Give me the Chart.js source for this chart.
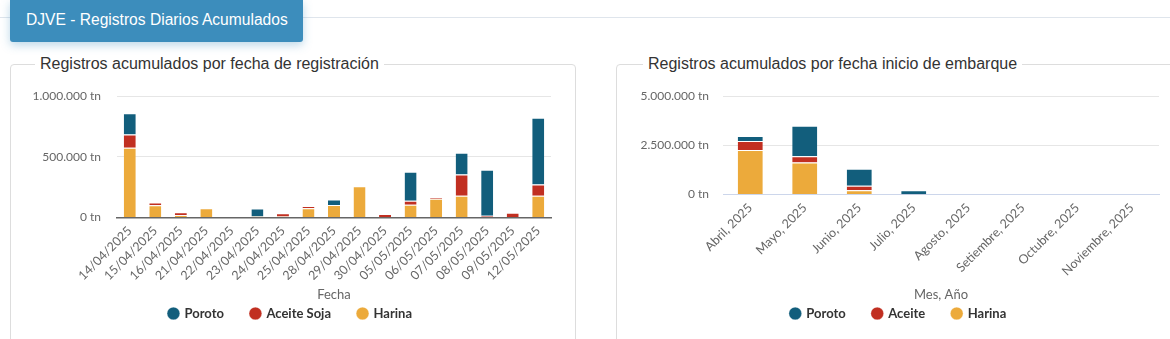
<!DOCTYPE html>
<html>
<head>
<meta charset="utf-8">
<script src="https://cdn.jsdelivr.net/npm/chart.js@4.4.1/dist/chart.umd.min.js"></script>
<style>
html,body{margin:0;padding:0;background:#fff;width:1170px;height:339px;overflow:hidden;position:relative;font-family:"Liberation Sans",Arial,sans-serif;}
.topline{position:absolute;left:0;top:17px;width:1170px;height:1px;background:#dfe5ec;}
.tab{position:absolute;left:10px;top:0;width:293px;height:42px;background:#3c8dbc;color:#fff;font-size:15.6px;line-height:39px;padding-left:16px;box-sizing:border-box;border-radius:0 0 3px 3px;box-shadow:0 3px 10px rgba(60,141,188,0.35);white-space:nowrap;}
.panel{position:absolute;top:64px;height:320px;border:1px solid #ddd;border-radius:4px;box-sizing:border-box;}
.ptitle{position:absolute;top:-10px;background:#fff;padding:0 5px;font-size:16px;color:#333;line-height:18px;white-space:nowrap;}
canvas{position:absolute;}
</style>
</head>
<body>
<div class="topline"></div>
<div class="tab">DJVE - Registros Diarios Acumulados</div>
<div class="panel" style="left:10px;width:566px;"><div class="ptitle" style="left:24px;">Registros acumulados por fecha de registración</div></div>
<div class="panel" style="left:616px;width:600px;"><div class="ptitle" style="left:26px;">Registros acumulados por fecha inicio de embarque</div></div>
<canvas id="c1" width="560" height="259" style="left:12px;top:80px;width:560px;height:259px;"></canvas>
<canvas id="c2" width="550" height="259" style="left:620px;top:80px;width:550px;height:259px;"></canvas>
<script>
// ---- Data: left chart (por fecha de registración) ----
const leftCategories = ['14/04/2025','15/04/2025','16/04/2025','21/04/2025','22/04/2025','23/04/2025','24/04/2025','25/04/2025','28/04/2025','29/04/2025','30/04/2025','05/05/2025','06/05/2025','07/05/2025','08/05/2025','09/05/2025','12/05/2025'];
const leftPoroto = [175000, 0, 0, 0, 0, 67000, 0, 0, 47000, 0, 0, 238000, 0, 179000, 378000, 0, 550000];
const leftAceite = [108000, 24000, 25000, 0, 0, 0, 27000, 17000, 0, 0, 25000, 33000, 11000, 174000, 14000, 34000, 91000];
const leftHarina = [575000, 100000, 19000, 77000, 0, 8000, 9000, 77000, 102000, 257000, 3000, 105000, 155000, 180000, 0, 5000, 180000];
const leftTicks = [0, 500000, 1000000];

// ---- Data: right chart (por fecha inicio de embarque) ----
const rightCategories = ['Abril, 2025','Mayo, 2025','Junio, 2025','Julio, 2025','Agosto, 2025','Setiembre, 2025','Octubre, 2025','Noviembre, 2025'];
const rightPoroto = [250000, 1550000, 870000, 200000, 0, 0, 0, 0];
const rightAceite = [460000, 310000, 220000, 15000, 0, 0, 0, 0];
const rightHarina = [2260000, 1630000, 220000, 0, 0, 0, 0, 0];
const rightTicks = [0, 2500000, 5000000];

const seriesNames = { poroto: 'Poroto', harina: 'Harina' };
const COLORS = { poroto: '#125e7c', aceite: '#c12f21', harina: '#ecaa3b' };

function fmt(v){ return String(v).replace(/\B(?=(\d{3})+(?!\d))/g, '.') + ' tn'; }

function build(id, cats, har, ace, por, aceLabel, ticks, cfg){
  const ctx = document.getElementById(id);
  const ds = (label, data, color) => ({
    label, data, backgroundColor: color, borderColor: '#ffffff',
    borderWidth: {top: 1, right: 0, bottom: 0, left: 0}, borderSkipped: false,
    categoryPercentage: 1, barPercentage: cfg.barPct, stack: 's'
  });
  return new Chart(ctx, {
    type: 'bar',
    data: {
      labels: cats,
      datasets: [
        ds(seriesNames.harina, har, COLORS.harina),
        ds(aceLabel, ace, COLORS.aceite),
        ds(seriesNames.poroto, por, COLORS.poroto)
      ]
    },
    options: {
      responsive: false, animation: false, devicePixelRatio: 1,
      layout: { padding: { top: 16, right: cfg.padRight, bottom: 9, left: cfg.padLeft } },
      scales: {
        x: {
          stacked: true,
          grid: { display: false, drawTicks: false },
          border: { display: true, color: cfg.axisColor, width: cfg.axisWidth },
          ticks: { autoSkip: false, maxRotation: 45, minRotation: 45, color: '#666', padding: 6,
                   font: { family: 'Lato', size: 12.5 } },
          title: { display: true, text: cfg.xTitle, color: '#666', font: { family: 'Lato', size: 13 },
                   padding: { top: 0, bottom: -23 } },
          afterFit: (s) => { s.height = cfg.xHeight; }
        },
        y: {
          stacked: true, min: ticks[0], max: ticks[ticks.length - 1],
          afterBuildTicks: (s) => { s.ticks = ticks.map(v => ({ value: v })); },
          grid: { color: '#e6e6e6', drawTicks: true, tickLength: cfg.yPad, tickColor: 'rgba(0,0,0,0)' },
          border: { display: false },
          ticks: { color: '#666', padding: 1, font: { family: 'Lato', size: 12 }, callback: (v) => fmt(v) },
          afterFit: (s) => { s.width = cfg.yWidth; }
        }
      },
      plugins: {
        legend: {
          position: 'bottom',
          labels: {
            usePointStyle: true, pointStyle: 'circle', boxWidth: 9, boxHeight: 9, padding: 27,
            color: '#333', font: { family: 'Lato', size: 13, weight: 'bold' },
            sort: (a, b) => b.datasetIndex - a.datasetIndex
          }
        },
        tooltip: { enabled: false }
      }
    }
  });
}

build('c1', leftCategories, leftHarina, leftAceite, leftPoroto, 'Aceite Soja', leftTicks,
  { barPct: 0.47, padLeft: 18, padRight: 21, axisColor: '#666', axisWidth: 1.5, xTitle: 'Fecha', xHeight: 62.5, yWidth: 87, yPad: 15 });
build('c2', rightCategories, rightHarina, rightAceite, rightPoroto, 'Aceite', rightTicks,
  { barPct: 0.46, padLeft: 18, padRight: 11, axisColor: '#ccd6eb', axisWidth: 1, xTitle: 'Mes, Año', xHeight: 85.5, yWidth: 85, yPad: 13 });
</script>
</body>
</html>
